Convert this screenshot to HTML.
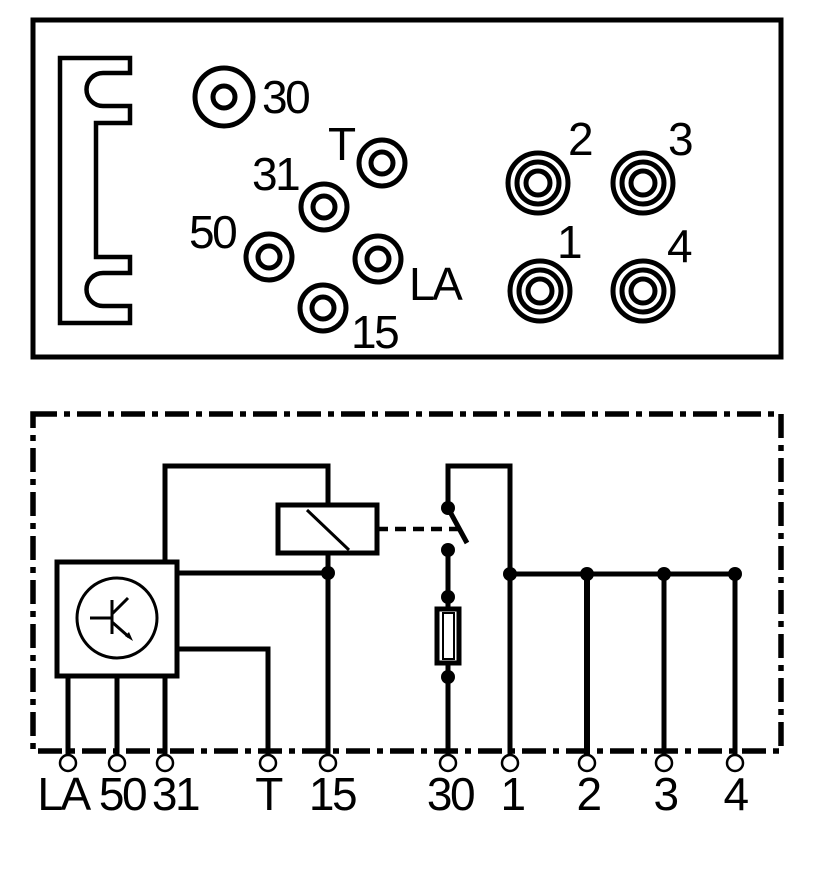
<!DOCTYPE html>
<html><head><meta charset="utf-8"><style>
html,body{margin:0;padding:0;background:#fff;}
svg{display:block;}
text{font-family:"Liberation Sans",Arial,sans-serif;font-size:46px;fill:#000;letter-spacing:-2.5px;}
</style></head><body>
<svg width="821" height="890" viewBox="0 0 821 890" xmlns="http://www.w3.org/2000/svg">
<g fill="none" stroke="#000">
<rect x="33" y="20" width="748" height="337" stroke-width="5"/>
<path d="M60,58 H130 V73 H103 A16.5,16.5 0 0 0 103,106 H130 V123 H96 V257 H130 V273 H103 A16.5,16.5 0 0 0 103,306 H130 V323 H60 Z" stroke-width="4.5"/>
<g stroke-width="5">
<circle cx="224" cy="97" r="29"/><circle cx="224" cy="97" r="11"/>
<circle cx="382" cy="163" r="23"/><circle cx="382" cy="163" r="11"/>
<circle cx="324" cy="207" r="23"/><circle cx="324" cy="207" r="11"/>
<circle cx="269" cy="257" r="23"/><circle cx="269" cy="257" r="11"/>
<circle cx="378" cy="259" r="23"/><circle cx="378" cy="259" r="11"/>
<circle cx="323" cy="308" r="23"/><circle cx="323" cy="308" r="11"/>
</g>
<g stroke-width="5">
<circle cx="538" cy="183" r="30"/><circle cx="538" cy="183" r="21"/><circle cx="538" cy="183" r="12"/>
<circle cx="643" cy="183" r="30"/><circle cx="643" cy="183" r="21"/><circle cx="643" cy="183" r="12"/>
<circle cx="540" cy="291" r="30"/><circle cx="540" cy="291" r="21"/><circle cx="540" cy="291" r="12"/>
<circle cx="643" cy="291" r="30"/><circle cx="643" cy="291" r="21"/><circle cx="643" cy="291" r="12"/>
</g>
<rect x="33" y="414" width="748" height="337" stroke-width="5.5" stroke-dasharray="24 7 6 7"/>
<g stroke-width="5">
<rect x="57" y="562" width="120" height="114"/>
<line x1="68" y1="676" x2="68" y2="755"/>
<line x1="117" y1="676" x2="117" y2="755"/>
<line x1="165" y1="676" x2="165" y2="755"/>
<polyline points="165,562 165,466 328,466 328,505"/>
<rect x="278" y="505" width="99" height="48"/>
<line x1="328" y1="553" x2="328" y2="755"/>
<line x1="177" y1="573" x2="328" y2="573"/>
<polyline points="177,649 268,649 268,755"/>
<polyline points="448,508 448,466 510,466 510,755"/>
<line x1="448" y1="508" x2="467" y2="543"/>
<line x1="448" y1="550" x2="448" y2="609"/>
<rect x="437" y="609" width="22" height="54"/>
<line x1="448" y1="663" x2="448" y2="755"/>
<line x1="510" y1="574" x2="735" y2="574"/>
<line x1="587" y1="574" x2="587" y2="755" stroke-width="6"/>
<line x1="664" y1="574" x2="664" y2="755"/>
<line x1="735" y1="574" x2="735" y2="755"/>
</g>
<rect x="443" y="613" width="11" height="46" stroke-width="2"/>
<line x1="307" y1="510" x2="349" y2="550" stroke-width="3"/>
<line x1="377" y1="529" x2="459" y2="529" stroke-width="4.5" stroke-dasharray="11 7"/>
<circle cx="117" cy="618" r="40" stroke-width="3"/>
<line x1="90" y1="618" x2="112" y2="618" stroke-width="3"/>
<line x1="112" y1="600" x2="112" y2="634" stroke-width="3"/>
<line x1="112" y1="614" x2="128" y2="598" stroke-width="3"/>
<line x1="112" y1="622" x2="129" y2="637" stroke-width="3"/>
<g stroke-width="2.5" fill="#fff">
<circle cx="68" cy="763" r="8"/><circle cx="117" cy="763" r="8"/><circle cx="165" cy="763" r="8"/>
<circle cx="268" cy="763" r="8"/><circle cx="328" cy="763" r="8"/><circle cx="448" cy="763" r="8"/>
<circle cx="510" cy="763" r="8"/><circle cx="587" cy="763" r="8"/><circle cx="664" cy="763" r="8"/><circle cx="735" cy="763" r="8"/>
</g>
</g>
<path d="M125,636 L133,641 L129,632 Z" fill="#000"/>
<g fill="#000">
<circle cx="328" cy="573" r="7"/>
<circle cx="448" cy="508" r="7"/><circle cx="448" cy="550" r="7"/><circle cx="448" cy="597" r="7"/><circle cx="448" cy="677" r="7"/>
<circle cx="510" cy="574" r="7"/><circle cx="587" cy="574" r="7"/><circle cx="664" cy="574" r="7"/><circle cx="735" cy="574" r="7"/>
</g>
<text x="262" y="113">30</text>
<text x="328" y="160">T</text>
<text x="252" y="190">31</text>
<text x="189" y="248">50</text>
<text x="409" y="300">LA</text>
<text x="351" y="348">15</text>
<text x="568" y="155">2</text>
<text x="668" y="155">3</text>
<text x="557" y="258">1</text>
<text x="667" y="262">4</text>
<g text-anchor="middle">
<text x="63" y="810">LA</text>
<text x="122" y="810">50</text>
<text x="175" y="810">31</text>
<text x="268" y="810">T</text>
<text x="332" y="810">15</text>
<text x="450" y="810">30</text>
<text x="512" y="810">1</text>
<text x="588" y="810">2</text>
<text x="665" y="810">3</text>
<text x="735" y="810">4</text>
</g>
</svg>
</body></html>
